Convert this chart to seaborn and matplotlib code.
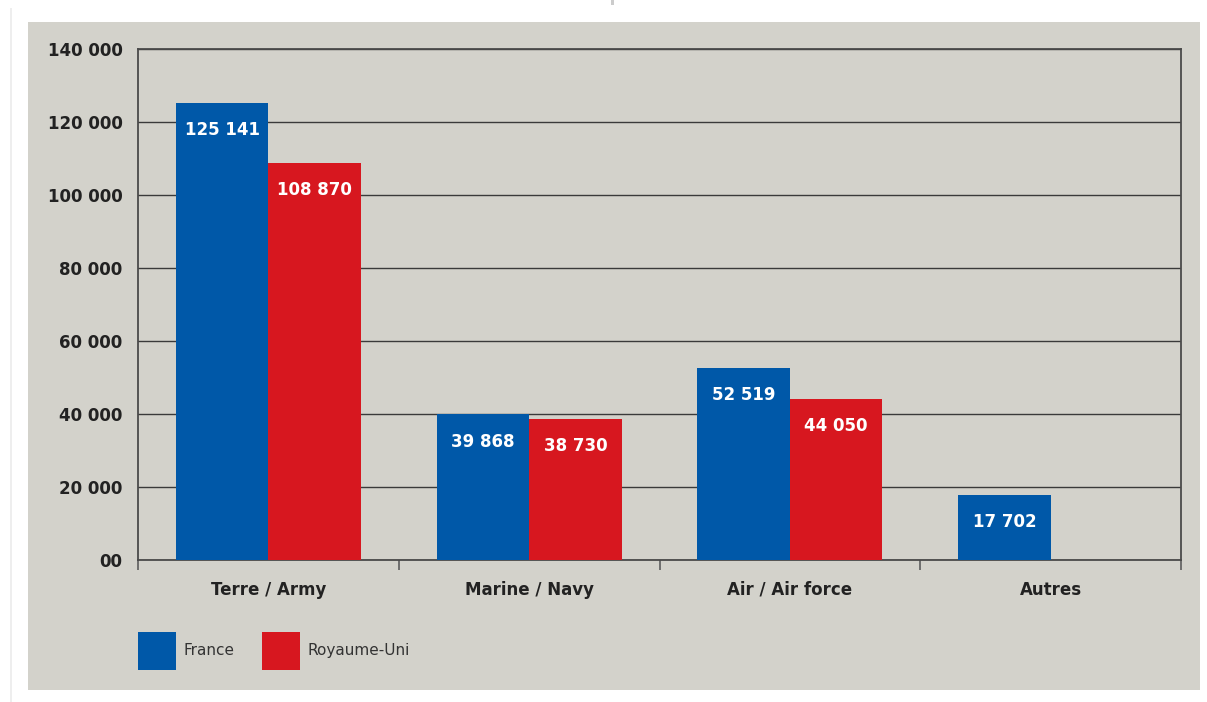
import pandas as pd
import matplotlib
matplotlib.use("Agg")
import matplotlib.pyplot as plt
from matplotlib.patches import Rectangle
from matplotlib.ticker import FuncFormatter, FixedLocator
import seaborn as sns

# données
categories = ["Terre / Army", "Marine / Navy", "Air / Air force", "Autres"]
france = [125141, 39868, 52519, 17702]
royaume_uni = [108870, 38730, 44050, None]
pays = ["France", "Royaume-Uni"]
couleurs = ["#0058a8", "#d7171f"]
yticks = [0, 20000, 40000, 60000, 80000, 100000, 120000, 140000]

BG = "#d3d2cb"

df = pd.DataFrame({
    "cat": categories * 2,
    "pays": [pays[0]] * 4 + [pays[1]] * 4,
    "val": france + royaume_uni,
})

sns.set_style("white")
plt.rcParams["font.family"] = ["DejaVu Sans"]

fig = plt.figure(figsize=(12.07, 7.02), dpi=100)
fig.patch.set_facecolor("white")
# panneau gris
fig.patches.append(Rectangle((28 / 1207, 1 - 690 / 702), 1172 / 1207, 668 / 702,
                             transform=fig.transFigure, facecolor=BG, edgecolor="none", zorder=-2))
fig.patches.append(Rectangle((10 / 1207, 0.0), 1.5 / 1207, 1 - 8 / 702,
                             transform=fig.transFigure, facecolor="#eeeeee", edgecolor="none", zorder=-2))
fig.patches.append(Rectangle((611 / 1207, 1 - 5 / 702), 3 / 1207, 5 / 702,
                             transform=fig.transFigure, facecolor="#cccccc", edgecolor="none", zorder=-2))

ax = fig.add_axes([138 / 1207, 1 - 560 / 702, 1043 / 1207, 511 / 702])
ax.set_zorder(1)
ax.set_facecolor(BG)

sns.barplot(data=df, x="cat", y="val", hue="pays", palette=couleurs,
            width=0.71, saturation=1, ax=ax, legend=True, zorder=3)

ax.set_ylim(0, 140000)
ax.set_xlim(-0.5, 3.5)
ax.set_yticks(yticks)
ax.yaxis.set_major_formatter(FuncFormatter(
    lambda v, p: "00" if v == 0 else f"{int(v):,}".replace(",", " ")))
ax.grid(axis="y", color="#3a3a3a", linewidth=1, zorder=1)
ax.set_axisbelow(True)
ax.set_xlabel("")
ax.set_ylabel("")

for s in ["left", "right", "top", "bottom"]:
    ax.spines[s].set_visible(True)
    ax.spines[s].set_color("#4a4a4a")
    ax.spines[s].set_linewidth(1.3)

ax.tick_params(axis="y", length=0, pad=11, labelsize=12)
ax.tick_params(axis="x", which="major", bottom=True, length=0, pad=15, labelsize=12)
ax.xaxis.set_minor_locator(FixedLocator([-0.5, 0.5, 1.5, 2.5, 3.5]))
ax.tick_params(axis="x", which="minor", bottom=True, length=7.5, width=1.3,
               color="#666666", direction="out")
for lab in ax.get_yticklabels() + ax.get_xticklabels():
    lab.set_fontweight("bold")
    lab.set_color("#222222")

# étiquettes dans les barres
for cont in ax.containers:
    for bar in cont:
        bar.set_edgecolor("none")
        h = bar.get_height()
        if pd.isna(h) or h == 0:
            continue
        ax.annotate(f"{int(h):,}".replace(",", " "),
                    (bar.get_x() + bar.get_width() / 2, h),
                    xytext=(0, -19.5), textcoords="offset points",
                    ha="center", va="center", color="white",
                    fontsize=12, fontweight="bold", zorder=5)

handles, labels = ax.get_legend_handles_labels()
for h in handles:
    h.set_edgecolor("none")
ax.get_legend().remove()
fig.legend(handles, labels, loc="upper left",
           bbox_to_anchor=(138 / 1207, 1 - 632 / 702),
           ncol=2, frameon=False, fontsize=11, borderpad=0, borderaxespad=0,
           handlelength=2.5, handleheight=3.4, handletextpad=0.5,
           columnspacing=1.75, labelcolor="#333333")

fig.savefig("out.png", dpi=100, facecolor="white")
